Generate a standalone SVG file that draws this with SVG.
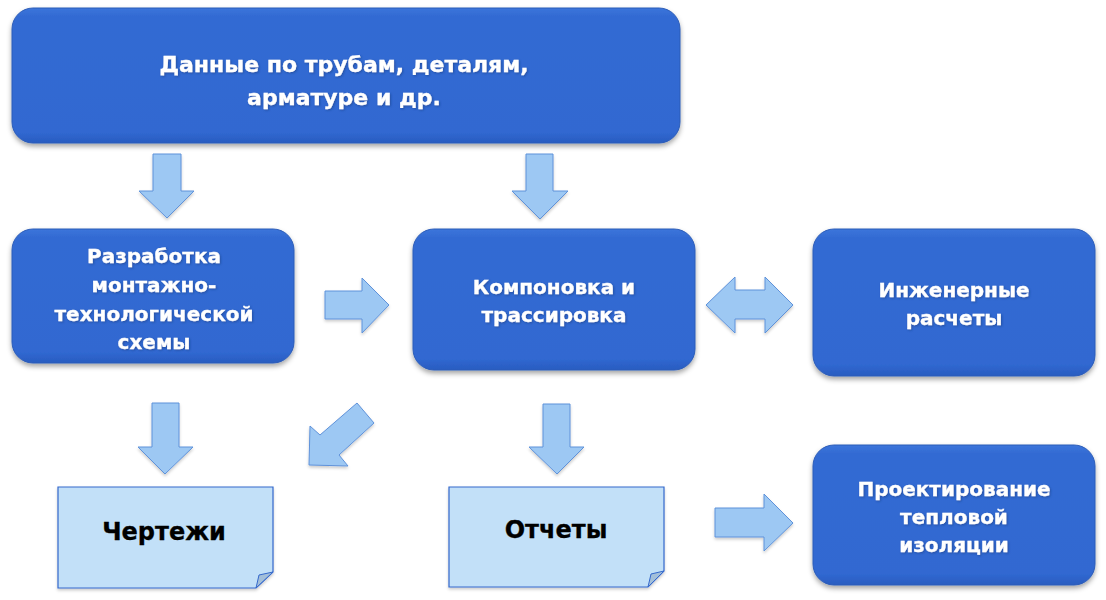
<svg xmlns="http://www.w3.org/2000/svg" width="1106" height="600" viewBox="0 0 1106 600">
<defs>
<style>
.box{fill:url(#boxg);stroke:#2b5cb8;stroke-width:1}
.lbl{font-family:"DejaVu Sans","Noto Sans",sans-serif;font-weight:bold;font-size:20px;fill:#ffffff;stroke:#ffffff;stroke-width:0.3;text-anchor:middle}
.big{font-size:22px}
.doc{fill:#c2e0f8;stroke:#3468cc;stroke-width:1.2}
.fold{fill:#a3bfd9;stroke:#3468cc;stroke-width:1}
.dlbl{font-family:"DejaVu Sans","Noto Sans",sans-serif;font-weight:bold;font-size:24px;fill:#000000;stroke:#000000;stroke-width:0.3;text-anchor:middle}
.arr{fill:#9dc8f3;stroke:#5f92da;stroke-width:1}
</style>
<linearGradient id="boxg" x1="0" y1="0" x2="0" y2="1">
<stop offset="0" stop-color="#3c75db"/>
<stop offset="0.06" stop-color="#336bd3"/>
<stop offset="0.92" stop-color="#3068d1"/>
<stop offset="1" stop-color="#2a5cc0"/>
</linearGradient>
<filter id="sh" x="-10%" y="-10%" width="120%" height="130%">
<feGaussianBlur in="SourceAlpha" stdDeviation="2.5"/>
<feOffset dx="0" dy="3" result="b"/>
<feFlood flood-color="#000" flood-opacity="0.35"/>
<feComposite in2="b" operator="in"/>
<feMerge><feMergeNode/><feMergeNode in="SourceGraphic"/></feMerge>
</filter>
<filter id="tsh" x="-5%" y="-20%" width="110%" height="140%">
<feGaussianBlur in="SourceAlpha" stdDeviation="0.8"/>
<feOffset dx="1" dy="1" result="b"/>
<feFlood flood-color="#1a3c80" flood-opacity="0.6"/>
<feComposite in2="b" operator="in"/>
<feMerge><feMergeNode/><feMergeNode in="SourceGraphic"/></feMerge>
</filter>
<filter id="ash" x="-20%" y="-20%" width="140%" height="140%">
<feGaussianBlur in="SourceAlpha" stdDeviation="1.5"/>
<feOffset dx="0" dy="2" result="b"/>
<feFlood flood-color="#000" flood-opacity="0.2"/>
<feComposite in2="b" operator="in"/>
<feMerge><feMergeNode/><feMergeNode in="SourceGraphic"/></feMerge>
</filter>
</defs>
<rect width="1106" height="600" fill="#ffffff"/>

<g id="node-data">
<rect class="box" x="12" y="8" width="668" height="135" rx="21" filter="url(#sh)"/>
<text class="lbl big" x="344" y="72" filter="url(#tsh)">Данные по трубам, деталям,</text>
<text class="lbl big" x="344" y="105" filter="url(#tsh)">арматуре и др.</text>
</g>

<g id="node-scheme">
<rect class="box" x="12" y="229" width="282" height="134" rx="21" filter="url(#sh)"/>
<text class="lbl" x="154" y="263" filter="url(#tsh)">Разработка</text>
<text class="lbl" x="154" y="292" filter="url(#tsh)">монтажно-</text>
<text class="lbl" x="154" y="321" filter="url(#tsh)">технологической</text>
<text class="lbl" x="154" y="349" filter="url(#tsh)">схемы</text>
</g>

<g id="node-layout">
<rect class="box" x="413" y="229" width="282" height="141" rx="21" filter="url(#sh)"/>
<text class="lbl" x="554" y="294" filter="url(#tsh)">Компоновка и</text>
<text class="lbl" x="554" y="322" filter="url(#tsh)">трассировка</text>
</g>

<g id="node-calc">
<rect class="box" x="813" y="229" width="282" height="147" rx="21" filter="url(#sh)"/>
<text class="lbl" x="954" y="297" filter="url(#tsh)">Инженерные</text>
<text class="lbl" x="954" y="325" filter="url(#tsh)">расчеты</text>
</g>

<g id="node-insulation">
<rect class="box" x="813" y="445" width="282" height="140" rx="21" filter="url(#sh)"/>
<text class="lbl" x="954" y="496" filter="url(#tsh)">Проектирование</text>
<text class="lbl" x="954" y="524" filter="url(#tsh)">тепловой</text>
<text class="lbl" x="954" y="552" filter="url(#tsh)">изоляции</text>
</g>

<g id="node-drawings">
<path class="doc" d="M58,487 H273 V572 L256,588 H58 Z" filter="url(#ash)"/>
<path class="fold" d="M256,588 L259,575 L273,572 Z"/>
<text class="dlbl" x="164" y="540">Чертежи</text>
</g>

<g id="node-reports">
<path class="doc" d="M449,487 H664 V571 L648,587 H449 Z" filter="url(#ash)"/>
<path class="fold" d="M648,587 L651,574 L664,571 Z"/>
<text class="dlbl" x="556" y="538">Отчеты</text>
</g>

<g id="connectors">
<polygon class="arr" filter="url(#ash)" points="153,154 181,154 181,191 194,191 167,218 139,191 153,191"/>
<polygon class="arr" filter="url(#ash)" points="526,154 553,154 553,191 568,191 540,219 512,191 526,191"/>
<polygon class="arr" filter="url(#ash)" points="325,291 362,291 362,278 389,305 362,333 362,319 325,319"/>
<polygon class="arr" filter="url(#ash)" points="706,305 735,277 735,290 765,290 765,277 793,305 765,333 765,319 735,319 735,333"/>
<polygon class="arr" filter="url(#ash)" points="152,403 179,403 179,447 193,447 165,474 138,447 152,447"/>
<polygon class="arr" filter="url(#ash)" points="357,403 374,423 339,455 348,466 309,465 310,426 320,435"/>
<polygon class="arr" filter="url(#ash)" points="543,404 570,404 570,447 584,447 557,474 529,447 543,447"/>
<polygon class="arr" filter="url(#ash)" points="715,508 764,508 764,494 793,523 764,551 764,537 715,537"/>
</g>
</svg>
